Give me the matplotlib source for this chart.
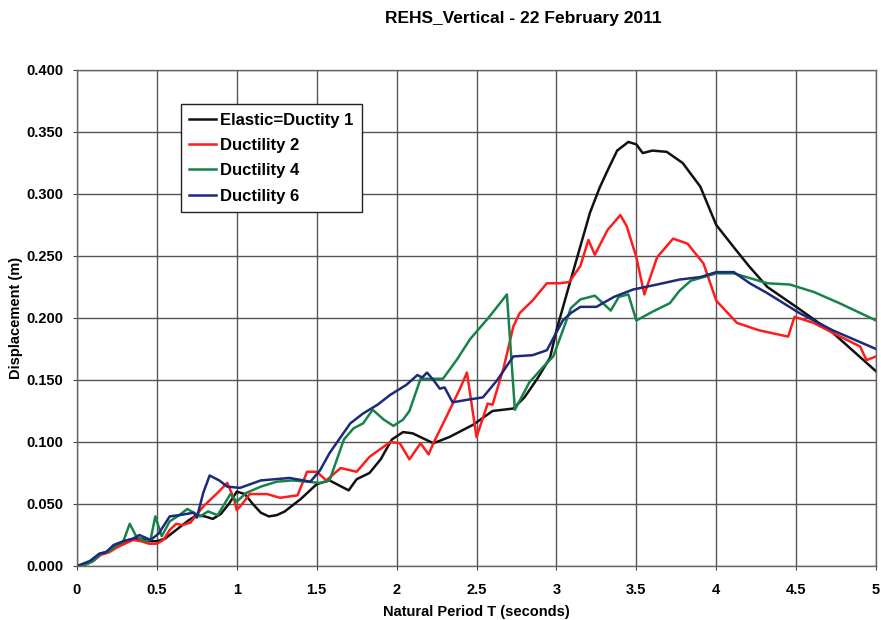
import matplotlib
matplotlib.use("Agg")
import matplotlib.pyplot as plt

plt.rcParams["font.family"] = ["Liberation Sans", "DejaVu Sans"]

# -------- Data --------
T_elastic = [0, 0.05, 0.1, 0.15, 0.2, 0.25, 0.3, 0.35, 0.4, 0.45, 0.5, 0.55, 0.6, 0.65,
             0.7, 0.75, 0.8, 0.85, 0.9, 0.95, 1.0, 1.05, 1.1, 1.15, 1.2, 1.25, 1.3, 1.35,
             1.4, 1.5, 1.58, 1.64, 1.7, 1.75, 1.83, 1.9, 1.97, 2.04, 2.1, 2.23, 2.33,
             2.48, 2.6, 2.73, 2.8, 2.88, 2.96, 3.0, 3.07, 3.15, 3.21, 3.27, 3.32, 3.38,
             3.45, 3.5, 3.54, 3.6, 3.69, 3.79, 3.9, 4.0, 4.11, 4.21, 4.32, 4.5, 4.73, 5.0]
D_elastic = [0, 0.001, 0.004, 0.010, 0.012, 0.017, 0.020, 0.022, 0.022, 0.020, 0.020,
             0.022, 0.027, 0.032, 0.037, 0.041, 0.040, 0.038, 0.042, 0.050, 0.060, 0.058,
             0.050, 0.043, 0.040, 0.041, 0.044, 0.049, 0.054, 0.066, 0.069, 0.065, 0.061,
             0.070, 0.075, 0.086, 0.102, 0.108, 0.107, 0.099, 0.104, 0.114, 0.125, 0.127,
             0.136, 0.151, 0.168, 0.190, 0.222, 0.258, 0.285, 0.305, 0.319, 0.335, 0.342,
             0.340, 0.333, 0.335, 0.334, 0.325, 0.306, 0.275, 0.257, 0.241, 0.225, 0.209,
             0.188, 0.157]

T_duct2 = [0, 0.05, 0.1, 0.15, 0.2, 0.25, 0.3, 0.35, 0.4, 0.45, 0.5, 0.54, 0.58, 0.62,
           0.66, 0.71, 0.79, 0.88, 0.94, 0.98, 1.0, 1.04, 1.08, 1.19, 1.27, 1.38, 1.44,
           1.5, 1.56, 1.65, 1.75, 1.83, 1.96, 2.02, 2.08, 2.15, 2.2, 2.23, 2.31, 2.4,
           2.44, 2.5, 2.57, 2.6, 2.67, 2.73, 2.77, 2.85, 2.94, 3.02, 3.08, 3.15, 3.2,
           3.24, 3.32, 3.4, 3.44, 3.5, 3.55, 3.63, 3.73, 3.82, 3.92, 4.0, 4.13, 4.27,
           4.45, 4.49, 4.61, 4.73, 4.9, 4.94, 5.0]
D_duct2 = [0, 0.001, 0.004, 0.009, 0.011, 0.015, 0.018, 0.021, 0.020, 0.018, 0.018,
           0.021, 0.029, 0.034, 0.033, 0.035, 0.048, 0.059, 0.067, 0.055, 0.045, 0.051,
           0.058, 0.058, 0.055, 0.057, 0.076, 0.076, 0.069, 0.079, 0.076, 0.088, 0.100,
           0.099, 0.086, 0.099, 0.090, 0.099, 0.120, 0.144, 0.156, 0.104, 0.131, 0.130,
           0.160, 0.193, 0.204, 0.214, 0.228, 0.228, 0.229, 0.242, 0.263, 0.251, 0.271,
           0.283, 0.274, 0.249, 0.219, 0.249, 0.264, 0.260, 0.244, 0.214, 0.196, 0.190,
           0.185, 0.201, 0.196, 0.188, 0.177, 0.166, 0.169]

T_duct4 = [0, 0.05, 0.1, 0.15, 0.2, 0.25, 0.29, 0.33, 0.37, 0.42, 0.46, 0.49, 0.53,
           0.58, 0.64, 0.69, 0.73, 0.77, 0.82, 0.88, 0.96, 1.0, 1.06, 1.15, 1.25, 1.35,
           1.44, 1.52, 1.58, 1.67, 1.73, 1.79, 1.85, 1.92, 1.98, 2.04, 2.08, 2.15, 2.29,
           2.38, 2.46, 2.58, 2.69, 2.74, 2.83, 2.92, 2.98, 3.04, 3.09, 3.15, 3.24, 3.34,
           3.39, 3.45, 3.5, 3.6, 3.71, 3.77, 3.84, 4.0, 4.11, 4.32, 4.46, 4.61, 4.77, 5.0]
D_duct4 = [0, 0.001, 0.004, 0.010, 0.012, 0.017, 0.020, 0.034, 0.024, 0.020, 0.021,
           0.040, 0.024, 0.036, 0.041, 0.046, 0.043, 0.040, 0.044, 0.041, 0.058, 0.052,
           0.059, 0.064, 0.068, 0.069, 0.068, 0.067, 0.069, 0.102, 0.111, 0.115, 0.126,
           0.118, 0.113, 0.118, 0.125, 0.151, 0.151, 0.167, 0.183, 0.201, 0.219, 0.126,
           0.148, 0.161, 0.169, 0.190, 0.208, 0.215, 0.218, 0.206, 0.217, 0.219, 0.198,
           0.205, 0.212, 0.222, 0.230, 0.236, 0.236, 0.228, 0.227, 0.221, 0.212, 0.198]

T_duct6 = [0, 0.08, 0.14, 0.18, 0.23, 0.29, 0.35, 0.39, 0.46, 0.51, 0.58, 0.64, 0.73,
           0.75, 0.79, 0.83, 0.89, 0.94, 1.02, 1.15, 1.33, 1.46, 1.52, 1.58, 1.65, 1.71,
           1.79, 1.88, 1.96, 2.06, 2.13, 2.16, 2.19, 2.23, 2.27, 2.3, 2.35, 2.44, 2.54,
           2.63, 2.73, 2.85, 2.94, 3.04, 3.09, 3.15, 3.25, 3.36, 3.48, 3.63, 3.77, 3.9,
           4.0, 4.11, 4.21, 4.32, 4.52, 4.73, 5.0]
D_duct6 = [0, 0.004, 0.010, 0.011, 0.017, 0.020, 0.022, 0.025, 0.021, 0.026, 0.040,
           0.041, 0.043, 0.039, 0.059, 0.073, 0.069, 0.064, 0.063, 0.069, 0.071, 0.068,
           0.077, 0.091, 0.104, 0.115, 0.123, 0.130, 0.138, 0.146, 0.154, 0.152, 0.156,
           0.150, 0.143, 0.144, 0.132, 0.134, 0.136, 0.150, 0.169, 0.170, 0.174, 0.198,
           0.204, 0.209, 0.209, 0.217, 0.223, 0.227, 0.231, 0.233, 0.237, 0.237, 0.228,
           0.220, 0.204, 0.190, 0.175]

x_ticks = [0, 0.5, 1, 1.5, 2, 2.5, 3, 3.5, 4, 4.5, 5]
x_tick_labels = ["0", "0.5", "1", "1.5", "2", "2.5", "3", "3.5", "4", "4.5", "5"]
y_ticks = [0.0, 0.05, 0.10, 0.15, 0.20, 0.25, 0.30, 0.35, 0.40]

series = [
    ("Elastic=Ductity 1", T_elastic, D_elastic, "#111111"),
    ("Ductility 2", T_duct2, D_duct2, "#ff1c1c"),
    ("Ductility 4", T_duct4, D_duct4, "#17834a"),
    ("Ductility 6", T_duct6, D_duct6, "#1c2a7a"),
]

# -------- Plot --------
fig = plt.figure(figsize=(8.81, 6.20), dpi=100)
ax = fig.add_axes([0.0874, 0.0871, 0.907, 0.800])

for label, t, d, color in series:
    ax.plot(t, d, color=color, linewidth=1.8, label=label)

ax.set_xlim(0, 5)
ax.set_ylim(0, 0.4)
ax.set_xticks(x_ticks)
ax.set_xticklabels(x_tick_labels)
ax.set_yticks(y_ticks)
ax.set_yticklabels([f"{v:.3f}" for v in y_ticks])
ax.tick_params(labelsize=10.5, length=3, color="#444444")
ax.tick_params(axis="x", pad=9)
ax.tick_params(axis="y", pad=7)
for lbl in ax.get_xticklabels() + ax.get_yticklabels():
    lbl.set_fontweight("bold")

ax.grid(True, color="#555555", linewidth=1.0)
ax.set_axisbelow(True)
for sp in ax.spines.values():
    sp.set_color("#666666")
    sp.set_linewidth(1.0)

ax.set_xlabel("Natural Period T (seconds)", fontsize=10.5, fontweight="bold", labelpad=6)
ax.set_ylabel("Displacement (m)", fontsize=10.5, fontweight="bold", labelpad=2)
fig.text(0.594, 0.970, "REHS_Vertical - 22 February 2011", ha="center", va="center",
         fontsize=12.5, fontweight="bold")

leg = ax.legend(loc="upper left", bbox_to_anchor=(0.130, 0.931), borderaxespad=0,
                fancybox=False, framealpha=1, edgecolor="#222222", handlelength=1.6,
                handletextpad=0.25, borderpad=0.5, labelspacing=0.62,
                prop={"weight": "bold", "size": 12})
leg.get_frame().set_linewidth(1.0)

fig.savefig("out.png", dpi=100)
